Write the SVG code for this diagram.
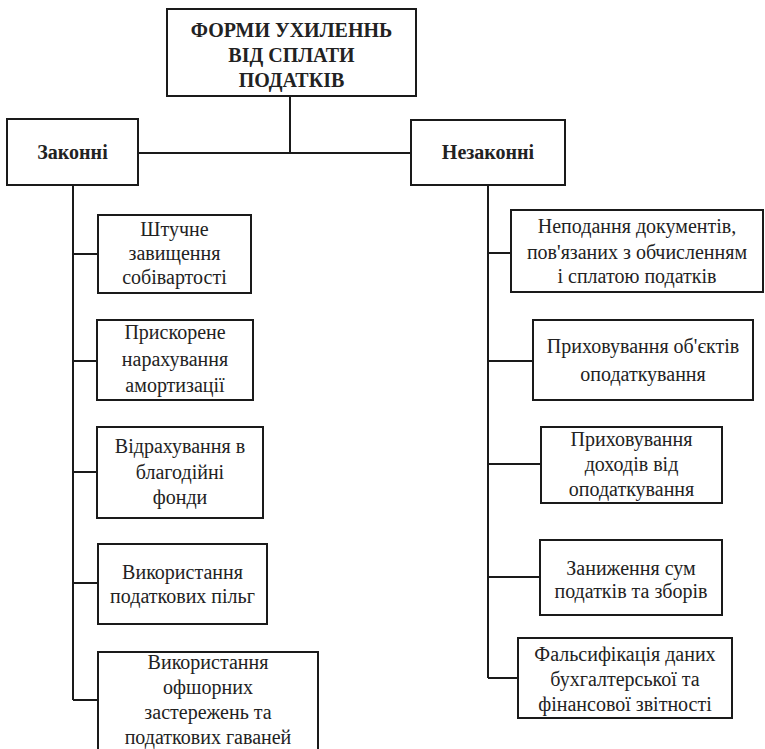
<svg xmlns="http://www.w3.org/2000/svg" width="765" height="749" viewBox="0 0 765 749">
<style>
.box{fill:#fff;stroke:#1a1a1a;stroke-width:2}
.ln{stroke:#1a1a1a;stroke-width:2;fill:none}
text{font-family:'Liberation Serif','DejaVu Serif',serif;font-size:20px;fill:#222;text-anchor:middle}
.b{font-weight:bold}
</style>
<rect width="765" height="749" fill="#fff"/>
<g id="connectors">
<path class="ln" d="M290 96V153M138 153H411"/>
<path class="ln" d="M73 185V700M73 254H98M73 361H97M73 472H97M73 583H98M73 700H98"/>
<path class="ln" d="M488 185V678M488 253H511M488 361H533M488 464H541M488 577H540M488 678H518"/>
</g>
<g id="root"><rect class="box" x="167" y="9" width="249" height="87"/>
<text class="b" x="291.5" y="37">ФОРМИ УХИЛЕННЬ</text><text class="b" x="291.5" y="62">ВІД СПЛАТИ</text><text class="b" x="291.5" y="87">ПОДАТКІВ</text></g>
<g id="legal"><rect class="box" x="7" y="119" width="131" height="66"/><text class="b" x="72.5" y="159">Законні</text></g>
<g id="illegal"><rect class="box" x="411" y="120" width="154" height="65"/><text class="b" x="488" y="159">Незаконні</text></g>
<g id="l1"><rect class="box" x="98" y="215" width="153" height="78"/><text x="174.5" y="236">Штучне</text><text x="174.5" y="260">завищення</text><text x="174.5" y="284">собівартості</text></g>
<g id="l2"><rect class="box" x="97" y="320" width="156" height="80"/><text x="175" y="339">Прискорене</text><text x="175" y="366">нарахування</text><text x="175" y="392">амортизації</text></g>
<g id="l3"><rect class="box" x="97" y="427" width="166" height="91"/><text x="180" y="453">Відрахування в</text><text x="180" y="479">благодійні</text><text x="180" y="504">фонди</text></g>
<g id="l4"><rect class="box" x="98" y="544" width="169" height="80"/><text x="182.5" y="579">Використання</text><text x="182.5" y="603">податкових пільг</text></g>
<g id="l5"><rect class="box" x="98" y="652" width="220" height="100"/><text x="208" y="669">Використання</text><text x="208" y="694">офшорних</text><text x="208" y="719">застережень та</text><text x="208" y="744">податкових гаваней</text></g>
<g id="r1"><rect class="box" x="511" y="210" width="252" height="82"/><text x="637" y="233">Неподання документів,</text><text x="637" y="259">пов'язаних з обчисленням</text><text x="637" y="283">і сплатою податків</text></g>
<g id="r2"><rect class="box" x="533" y="320" width="220" height="80"/><text x="643" y="353">Приховування об'єктів</text><text x="643" y="381">оподаткування</text></g>
<g id="r3"><rect class="box" x="541" y="427" width="181" height="76"/><text x="631.5" y="446">Приховування</text><text x="631.5" y="471">доходів від</text><text x="631.5" y="496">оподаткування</text></g>
<g id="r4"><rect class="box" x="540" y="540" width="182" height="75"/><text x="631" y="575">Заниження сум</text><text x="631" y="598">податків та зборів</text></g>
<g id="r5"><rect class="box" x="518" y="638" width="214" height="80"/><text x="625" y="661">Фальсифікація даних</text><text x="625" y="686">бухгалтерської та</text><text x="625" y="711">фінансової звітності</text></g>
</svg>
